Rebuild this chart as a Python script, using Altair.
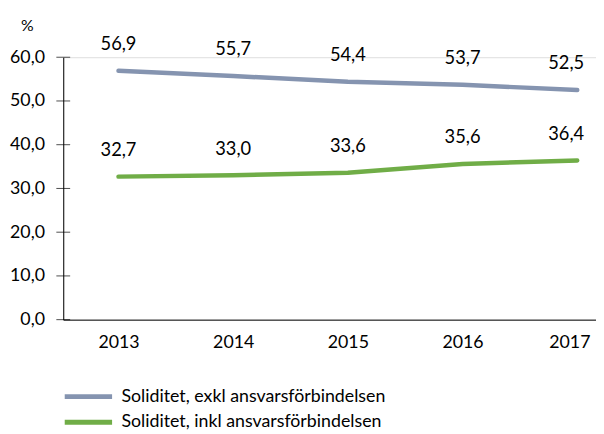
import altair as alt
import pandas as pd

years = [2013, 2014, 2015, 2016, 2017]
series_names = ["Soliditet, exkl ansvarsförbindelsen", "Soliditet, inkl ansvarsförbindelsen"]
exkl = [56.9, 55.7, 54.4, 53.7, 52.5]
inkl = [32.7, 33.0, 33.6, 35.6, 36.4]
colors = ["#8594b0", "#70ad47"]
y_ticks = [0, 10, 20, 30, 40, 50, 60]

rows = []
for name, vals in zip(series_names, [exkl, inkl]):
    for yr, v in zip(years, vals):
        rows.append({"year": yr, "series": name, "value": v,
                     "label": f"{v:.1f}".replace(".", ",")})
df = pd.DataFrame(rows)
ticks_df = pd.DataFrame({"t": y_ticks})

FONT = "Lato"

x_scale = alt.Scale(domain=[2012.5183, 2017.1634], nice=False, zero=False)
y_scale = alt.Scale(domain=[0, 60], nice=False)

x_enc = alt.X("year:Q", scale=x_scale,
              axis=alt.Axis(values=years, format="d", ticks=False, grid=False,
                            title=None, labelFontSize=18, labelFont=FONT,
                            labelColor="#000", labelPadding=14,
                            domainColor="#000", domainWidth=1,
                            labelFlush=False,
                            labelOffset={"condition": {"test": "datum.value == 2017", "value": -8},
                                         "value": 0}))
y_enc = alt.Y("value:Q", scale=y_scale,
              axis=alt.Axis(values=y_ticks, ticks=False, grid=False,
                            labelExpr="replace(format(datum.value, '.1f'), '.', ',')",
                            labelFontSize=18, labelFont=FONT, labelColor="#000",
                            labelPadding=19, domainColor="#000", domainWidth=1,
                            title="%", titleAngle=0, titleX=-37, titleY=-32,
                            titleAlign="center", titleBaseline="middle",
                            titleFont=FONT, titleFontSize=16, titleFontWeight="normal",
                            titleColor="#000"))

color_enc = alt.Color("series:N",
                      scale=alt.Scale(domain=series_names, range=colors),
                      legend=alt.Legend(orient="none", legendX=-1, legendY=331,
                                        title=None, symbolType="stroke",
                                        symbolSize=2304, symbolStrokeWidth=5,
                                        clipHeight=26, rowPadding=0, padding=0,
                                        labelFont=FONT, labelFontSize=18,
                                        labelColor="#000", labelOffset=7,
                                        labelLimit=400))

base = alt.Chart(df)

lines = base.mark_line(strokeWidth=4.5, strokeCap="round", strokeJoin="round").encode(
    x=x_enc, y=y_enc, color=color_enc)

labels_mid = base.transform_filter(alt.datum.year < 2017).mark_text(
    font=FONT, fontSize=18.5, color="#000", dy=-27, baseline="middle", align="center"
).encode(x="year:Q", y="value:Q", text="label:N")

labels_last = base.transform_filter(alt.datum.year == 2017).mark_text(
    font=FONT, fontSize=18.5, color="#000", dy=-27, dx=7, baseline="middle", align="right"
).encode(x="year:Q", y="value:Q", text="label:N")

yticks = alt.Chart(ticks_df).mark_tick(color="#000", thickness=1, size=14, orient="horizontal").encode(
    y=alt.Y("t:Q", scale=y_scale), x=alt.value(0))

chart = alt.layer(yticks, lines, labels_mid, labels_last).properties(
    width=540, height=266,
    autosize=alt.AutoSizeParams(type="none"),
    padding={"left": 56, "top": 47, "right": 0, "bottom": 113},
).configure_view(stroke=None).configure(background="white")

chart.save("out.html", embed_options={"renderer": "svg", "actions": False})
